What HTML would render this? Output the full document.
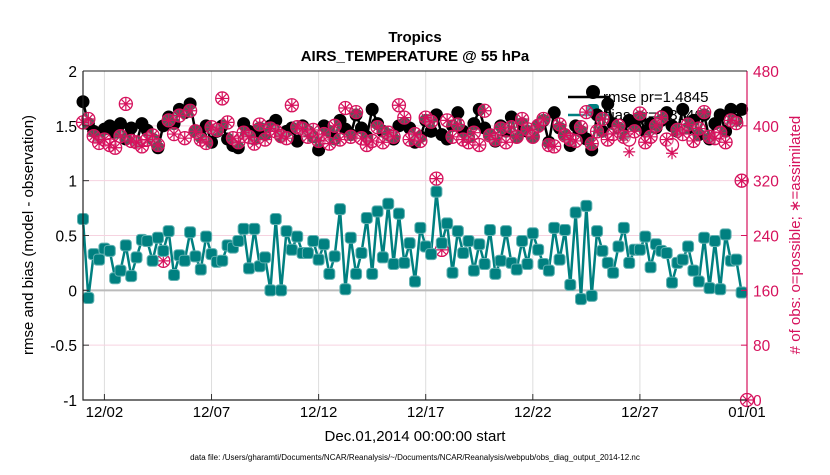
<!DOCTYPE html>
<html><head><meta charset="utf-8"><style>
body{margin:0;background:#fff;font-family:"Liberation Sans",sans-serif}
svg text{font-family:"Liberation Sans",sans-serif}
</style></head><body>
<svg id="chart" width="830" height="470" xmlns="http://www.w3.org/2000/svg">
<rect width="830" height="470" fill="#fff"/>
<text x="415" y="42" text-anchor="middle" font-size="15" font-weight="bold">Tropics</text>
<text x="415" y="61" text-anchor="middle" font-size="15" font-weight="bold">AIRS_TEMPERATURE @ 55 hPa</text>
<g id="grid"></g>
<g id="legend">
 <line x1="568" y1="97" x2="610" y2="97" stroke="#000" stroke-width="2.5"/>
 <circle cx="593" cy="92" r="7" fill="#000"/>
 <text x="603" y="102" font-size="15">rmse pr=1.4845</text>
 <line x1="568" y1="115" x2="610" y2="115" stroke="#008080" stroke-width="2.5"/>
 <rect x="587" y="104" width="12" height="12" rx="3" fill="#008080"/>
 <text x="603" y="120" font-size="15">bias pr=0.3146</text>
</g>
<g id="marks"></g>
<g id="axes"></g>
<text transform="translate(33,235) rotate(-90)" text-anchor="middle" font-size="15">rmse and bias (model - observation)</text>
<text transform="translate(800,235) rotate(-90)" text-anchor="middle" font-size="15" fill="#d6115c"># of obs: o=possible; ∗=assimilated</text>
<text x="415" y="441" text-anchor="middle" font-size="15">Dec.01,2014 00:00:00 start</text>
<text x="415" y="460" text-anchor="middle" font-size="8">data file: /Users/gharamti/Documents/NCAR/Reanalysis/~/Documents/NCAR/Reanalysis/webpub/obs_diag_output_2014-12.nc</text>
</svg>
<script>
const xTickLabels=["12/02","12/07","12/12","12/17","12/22","12/27","01/01"];
const xTickDays=[1,6,11,16,21,26,31];
const yTickLabels=["2","1.5","1","0.5","0","-0.5","-1"];
const y2TickLabels=["480","400","320","240","160","80","0"];
const rmse=[1.72,1.52,1.45,1.40,1.47,1.50,1.44,1.52,1.38,1.48,1.35,1.52,1.46,1.38,1.30,1.50,1.58,1.52,1.65,1.62,1.70,1.45,1.40,1.50,1.35,1.45,1.50,1.38,1.32,1.30,1.52,1.45,1.38,1.48,1.42,1.50,1.55,1.40,1.45,1.48,1.36,1.50,1.45,
1.40,1.28,1.50,1.45,1.38,1.55,1.47,1.42,1.60,1.48,1.40,1.65,1.52,1.45,1.42,1.38,1.50,1.52,1.48,1.35,1.40,1.55,1.45,1.60,1.42,1.38,1.50,1.62,1.45,1.40,1.52,1.65,1.48,1.42,1.36,1.50,1.45,1.58,1.40,1.52,
1.45,1.40,1.50,1.55,1.35,1.62,1.48,1.42,1.32,1.50,1.45,1.38,1.28,1.60,1.45,1.70,1.52,1.48,1.42,1.55,1.50,1.58,1.45,1.52,1.48,1.55,1.62,1.50,1.45,1.65,1.48,1.55,1.42,1.60,1.38,1.52,1.60,1.45,1.65,1.55,1.65];
const bias=[0.65,-0.07,0.33,0.28,0.38,0.36,0.11,0.18,0.41,0.13,0.30,0.46,0.45,0.27,0.48,0.36,0.54,0.14,0.32,0.27,0.53,0.31,0.19,0.49,0.33,0.26,0.27,0.41,0.39,0.45,0.56,0.20,0.56,0.22,0.30,0.00,0.65,0.00,0.54,0.37,0.49,0.34,0.34,
0.45,0.28,0.42,0.15,0.31,0.74,0.01,0.48,0.15,0.34,0.66,0.15,0.72,0.30,0.79,0.24,0.70,0.25,0.43,0.08,0.57,0.40,0.33,0.90,0.43,0.61,0.16,0.54,0.34,0.45,0.18,0.42,0.24,0.55,0.15,0.27,0.54,0.25,0.19,0.45,
0.24,0.52,0.37,0.24,0.18,0.57,0.28,0.55,0.05,0.71,-0.08,0.77,-0.05,0.54,0.36,0.25,0.16,0.40,0.57,0.25,0.37,0.37,0.49,0.21,0.42,0.36,0.34,0.07,0.25,0.28,0.40,0.18,0.08,0.48,0.02,0.45,0.01,0.51,0.27,0.28,-0.02];
const obsPossible=[405,410,385,375,380,372,368,385,432,378,376,370,380,386,372,203,408,388,415,382,422,392,380,375,398,394,440,405,382,376,390,384,374,402,380,396,392,385,382,430,398,396,384,
394,378,388,374,400,380,426,384,420,382,372,378,398,376,390,384,430,412,380,388,378,412,406,323,219,408,384,402,380,376,390,372,422,386,380,396,376,398,384,410,
395,384,400,410,372,370,402,386,380,378,398,420,374,392,410,380,388,400,384,380,392,418,376,384,400,412,380,372,394,388,402,378,396,420,384,382,390,376,408,404,320,0];
const obsAssim=[405,410,385,375,380,372,368,385,432,378,376,370,380,386,372,203,408,388,415,382,422,392,380,375,398,394,440,405,382,376,390,384,374,402,380,396,392,385,382,430,398,396,384,
394,378,388,374,400,380,426,384,420,382,372,378,398,376,390,384,430,412,380,388,378,412,406,323,219,408,384,402,380,376,390,372,422,386,380,396,376,398,384,410,
395,384,400,410,372,370,402,386,380,378,398,420,374,392,410,380,388,400,384,362,392,418,376,384,400,412,380,360,394,388,402,378,396,420,384,382,390,376,408,404,320,0];

const X0=83,X1=747,Y0=71,Y1=400;
const xs=d=>X0+(X1-X0)*d/31;
const xi=i=>xs(i*0.25);
const ys=v=>Y1-(v+1)/3*(Y1-Y0);
const y2=c=>ys((c-160)/160);
const NS="http://www.w3.org/2000/svg";
function mk(tag,attrs,parent){const e=document.createElementNS(NS,tag);for(const k in attrs)e.setAttribute(k,attrs[k]);parent.appendChild(e);return e;}
const grid=document.getElementById('grid'),marks=document.getElementById('marks'),axes=document.getElementById('axes');
xTickDays.forEach((d,i)=>{
 const g=mk('line',{x1:xs(d),x2:xs(d),y1:Y0,y2:Y1,stroke:'#ddd','stroke-width':1},grid);
 
 
 const t=mk('line',{x1:xs(d),x2:xs(d),y1:Y1,y2:Y1-6,stroke:'#333'},axes);
 
 
 const l=mk('text',{x:xs(d),y:Y1+17,'text-anchor':'middle','font-size':15},axes);
 l.textContent=xTickLabels[i];
 
 
});
yTickLabels.forEach((s,i)=>{
 const v=parseFloat(s),y=ys(v);
 if(v!==0&&v!==2&&v!==-1){const g=mk('line',{x1:X0,x2:X1,y1:y,y2:y,stroke:'#f6d3e0','stroke-width':1},grid);
 
 }
 const t=mk('text',{x:X0-6,y:y+6,'text-anchor':'end','font-size':15.5},axes);
 t.textContent=s;
 
 
 const tk=mk('line',{x1:X0,x2:X0+6,y1:y,y2:y,stroke:'#333'},axes);
 
 
 const t2=mk('text',{x:X1+6,y:y+6,'font-size':15.5,fill:'#d6115c'},axes);
 t2.textContent=y2TickLabels[i];
 
 
 const tk2=mk('line',{x1:X1-6,x2:X1,y1:y,y2:y,stroke:'#d6115c'},axes);
 
 
});
const zl=mk('line',{x1:X0,x2:X1,y1:ys(0),y2:ys(0),stroke:'#bbb','stroke-width':2},grid);


const ax=mk('path',{d:`M${X0},${Y0}V${Y1}H${X1}`,fill:'none',stroke:'#222','stroke-width':1.2},axes);


const ax2=mk('line',{x1:X1,x2:X1,y1:Y0,y2:Y1,stroke:'#d6115c','stroke-width':1.2},axes);


const axt=mk('line',{x1:X0,x2:X1,y1:Y0,y2:Y0,stroke:'#222','stroke-width':1},axes);



const rl=mk('polyline',{points:rmse.map((v,i)=>xi(i)+','+ys(v)).join(' '),fill:'none',stroke:'#000','stroke-width':2.5},marks);


rmse.forEach((v,i)=>{const c=mk('circle',{cx:xi(i),cy:ys(v),r:6.5,fill:'#000'},marks);
 
 });
function star(x,y,r,p){let d='';for(let k=0;k<4;k++){const a=k*Math.PI/4;d+=`M${x-r*Math.cos(a)},${y-r*Math.sin(a)}L${x+r*Math.cos(a)},${y+r*Math.sin(a)}`;}return mk('path',{d,stroke:'#d6115c','stroke-width':1.2,fill:'none'},p);}
obsPossible.forEach((c,i)=>{const o=mk('circle',{cx:xi(i),cy:y2(c),r:6.5,fill:'rgba(255,255,255,0.35)',stroke:'#d6115c','stroke-width':1.3},marks);
 
 });
obsAssim.forEach((c,i)=>{const s=star(xi(i),y2(c),6,marks);
 
 });
const bl=mk('polyline',{points:bias.map((v,i)=>xi(i)+','+ys(v)).join(' '),fill:'none',stroke:'#008080','stroke-width':2.5},marks);


bias.forEach((v,i)=>{const r=mk('rect',{x:xi(i)-5.5,y:ys(v)-5.5,width:11,height:11,rx:3,fill:'#008080',stroke:'#5fb0b0','stroke-width':1},marks);
 
 });
</script>
</body></html>
